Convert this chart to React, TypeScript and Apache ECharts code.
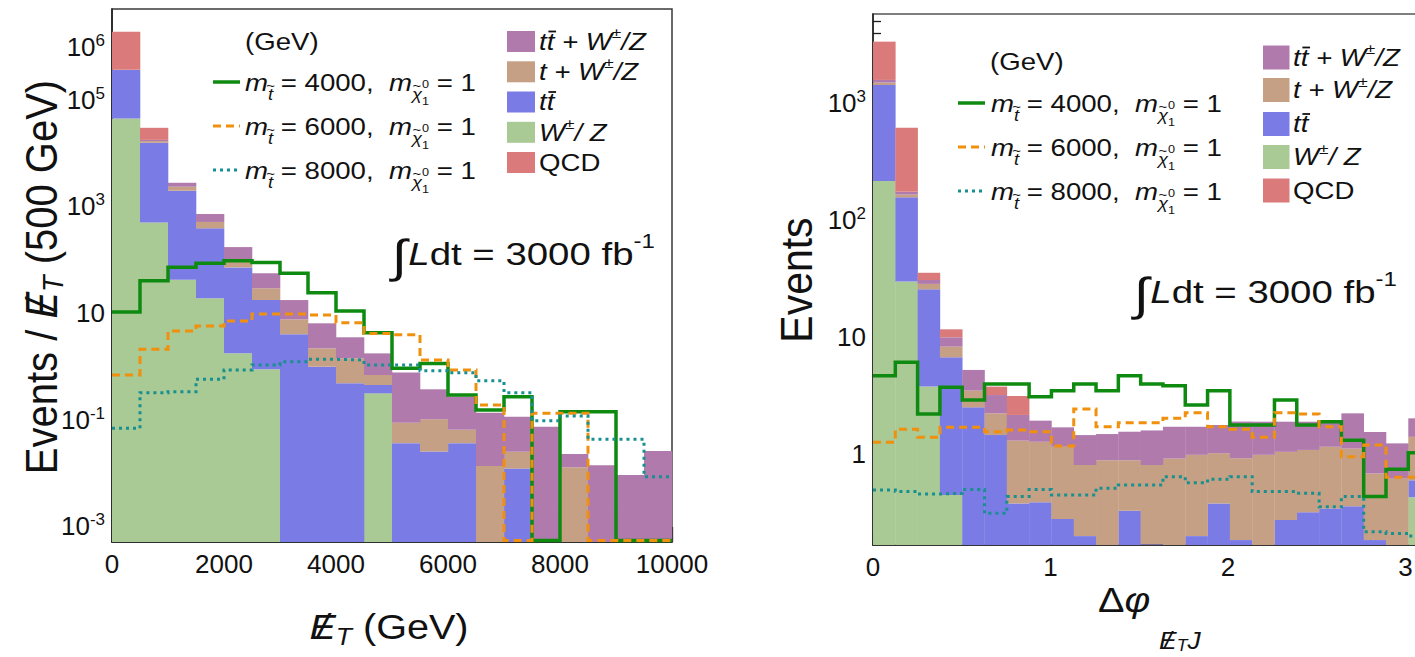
import React, { useEffect, useRef } from 'react';
import * as echarts from 'echarts';

const FONT = '"Liberation Sans", Arial, Helvetica, sans-serif';
const INK = '#111111';
const AXIS = '#1c1c1c';

const C_QCD = '#db7a7a';
const C_TTV = '#b07aad';
const C_TV = '#c5a084';
const C_TT = '#7b7be6';
const C_V = '#a9c995';
const C_S4 = '#0e8a10';
const C_S6 = '#f0900c';
const C_S8 = '#17908f';

// ---------------- left panel: missing ET (GeV), 500 GeV bins ----------------
const metEdges = [0, 500, 1000, 1500, 2000, 2500, 3000, 3500, 4000, 4500, 5000, 5500, 6000, 6500, 7000, 7500, 8000, 8500, 9000, 9500, 10000];
const metWZ = [45000, 500, 42, 19, 1.75, 0.88, 0, 0, 0, 0.31, 0, 0, 0, 0, 0, 0, 0, 0, 0, 0];
const metTT = [320000, 15200, 1935, 370, 70, 16.6, 4.0, 0.98, 0.48, 0.135, 0.036, 0.025, 0.036, 0, 0.012, 0, 0, 0, 0, 0];
const metTV = [2000, 1200, 370, 123, 30, 11.6, 3.6, 1.19, 0.93, 0.24, 0.051, 0.076, 0.028, 0.0134, 0.0128, 0, 0.0127, 0, 0, 0];
const metTTV = [1500, 900, 440, 211, 71, 26.5, 9.9, 4.23, 2.09, 1.06, 0.677, 0.268, 0.205, 0.121, 0.088, 0.073, 0.0098, 0.0138, 0.0091, 0.0255];
const metQCD = [1540000, 12200, 0, 0, 0, 0, 0, 0, 0, 0, 0, 0, 0, 0, 0, 0, 0, 0, 0, 0];
const metSig4000 = [10.4, 40.4, 72, 85.7, 96, 89, 55.6, 24, 10.9, 4.27, 0.914, 1.13, 0.288, 0.151, 0.268, 0, 0.14, 0.14, 0, 0];
const metSig6000 = [0.686, 2.08, 4.59, 5.7, 7.08, 9.58, 9.58, 9.17, 6.58, 4.1, 3.9, 1.31, 0.85, 0.187, 0, 0.131, 0.131, 0, 0, 0];
const metSig8000 = [0.0684, 0.319, 0.333, 0.569, 0.85, 1.06, 1.22, 1.35, 1.31, 1.06, 1.06, 0.826, 0.757, 0.535, 0.319, 0.095, 0.116, 0.0425, 0.0425, 0.0084];
const metLabelExp = [6, 5, 3, 1, -1, -3];

// ---------------- right panel: delta phi, pi/25 bins ----------------
const dphiEdges = [0, 0.1257, 0.2513, 0.377, 0.5027, 0.6283, 0.754, 0.8796, 1.0053, 1.131, 1.2566, 1.3823, 1.508, 1.6336, 1.7593, 1.885, 2.0106, 2.1363, 2.2619, 2.3876, 2.5133, 2.6389, 2.7646, 2.8903, 3.0159, 3.1416];
const dphiWZ = [217, 30, 3.8, 0.45, 0, 0, 0, 0, 0, 0, 0, 0, 0, 0, 0, 0, 0, 0, 0, 0, 0, 0, 0, 0, 0.43];
const dphiTT = [1216, 127, 21.9, 6.3, 2.52, 1.46, 0.38, 0.39, 0.28, 0.2, 0.1, 0.33, 0.17, 0.1, 0.2, 0.38, 0.185, 0.1, 0.275, 0.32, 0.345, 0.36, 0.185, 0.1, 0.17];
const dphiTV = [70, 9, 2.9, 1.57, 0.98, 0.78, 0.93, 0.89, 0.88, 0.61, 0.79, 0.56, 0.64, 0.82, 0.79, 0.64, 0.74, 0.89, 0.775, 0.77, 0.815, 0.76, 0.5, 0.52, 0.81];
const dphiTTV = [80, 9, 2.3, 1.68, 1.76, 0.97, 0.86, 0.66, 0.54, 0.65, 0.6, 0.67, 0.79, 0.8, 0.73, 0.76, 0.98, 0.91, 0.85, 0.81, 0.74, 1.12, 0.87, 0.62, 0.62];
const dphiQCD = [1780, 443, 4.7, 1.7, 0, 0.58, 0.98, 0, 0, 0, 0, 0, 0, 0, 0, 0, 0, 0, 0, 0, 0, 0, 0, 0, 0];
const dphiSig4000 = [4.7, 6.11, 2.21, 3.74, 2.91, 3.99, 3.99, 3.11, 3.5, 3.99, 3.5, 4.7, 3.99, 3.86, 2.64, 3.5, 1.78, 1.78, 2.91, 1.78, 1.9, 1.32, 0.435, 0.745, 1.03];
const dphiSig6000 = [1.27, 1.64, 1.4, 1.7, 1.7, 1.56, 1.61, 1.56, 1.18, 2.44, 1.72, 1.86, 1.86, 2.03, 2.27, 1.72, 1.64, 1.4, 2.27, 2.21, 1.72, 0.953, 1.2, 0.636, 0.636];
const dphiSig8000 = [0.495, 0.48, 0.458, 0.464, 0.5, 0.313, 0.435, 0.5, 0.449, 0.449, 0.512, 0.547, 0.547, 0.644, 0.572, 0.611, 0.644, 0.48, 0.48, 0.464, 0.357, 0.435, 0.218, 0.211, 0.2];
const dphiLabelExp = [3, 2, 1, 0];
const dphiMajor = [0, 1, 2, 3];
const dphiMinor = [0.2, 0.4, 0.6, 0.8, 1.2, 1.4, 1.6, 1.8, 2.2, 2.4, 2.6, 2.8];

const signalMasses = ['4000', '6000', '8000'];

// ---------------- helpers ----------------
const canvas = typeof document !== 'undefined' ? document.createElement('canvas') : null;
const mctx = canvas ? canvas.getContext('2d') : null;
function tw(t: string, sz: number, it?: boolean) {
  if (!t) return 0;
  if (!mctx) return t.length * sz * 0.55;
  mctx.font = `${it ? 'italic ' : ''}${sz}px ${FONT}`;
  return mctx.measureText(t).width;
}

type Piece = { t: string; sz: number; it?: boolean; dy?: number; dx?: number; over?: boolean; same?: boolean; bar?: boolean };

function composeWidth(pieces: Piece[]) {
  let cx = 0, prevX = 0;
  for (const p of pieces) {
    const w = tw(p.t, p.sz, p.it);
    if (p.over || p.bar) continue;
    if (p.same) { cx = Math.max(cx, prevX + w); continue; }
    const px = cx + (p.dx || 0);
    prevX = px; cx = px + w;
  }
  return cx;
}

function compose(x: number, y: number, pieces: Piece[], sx = 1, rot = 0, anchor: 'left' | 'center' = 'left') {
  let cx = 0, prevX = 0, prevW = 0;
  const total = composeWidth(pieces);
  const off = anchor === 'center' ? -total / 2 : 0;
  const children: any[] = [];
  for (const p of pieces) {
    if (p.bar) {
      const yy = p.dy || 0;
      children.push({
        type: 'line', silent: true,
        shape: { x1: prevX + off + 1.5 + (p.dx || 0), y1: yy, x2: prevX + prevW + off + 1.5 + (p.dx || 0), y2: yy },
        style: { stroke: INK, lineWidth: 1.8 },
      });
      continue;
    }
    const w = tw(p.t, p.sz, p.it);
    let px: number;
    if (p.over) {
      px = prevX + (prevW - w) / 2 + (p.dx || 0);
    } else if (p.same) {
      px = prevX + (p.dx || 0);
      cx = Math.max(cx, px + w);
    } else {
      px = cx + (p.dx || 0);
      prevX = px; prevW = w; cx = px + w;
    }
    children.push({
      type: 'text', x: px + off, y: p.dy || 0, silent: true,
      style: {
        text: p.t, fontSize: p.sz, fontFamily: FONT, fontStyle: p.it ? 'italic' : 'normal', fill: INK,
        align: 'left', verticalAlign: 'middle', textAlign: 'left', textVerticalAlign: 'middle',
      },
    });
  }
  return { type: 'group', x, y, scaleX: sx, z: 100, children: [{ type: 'group', rotation: rot, children }] };
}

function stackData(edges: number[], layers: number[][], floor: number) {
  const out: number[][][] = layers.map(() => []);
  for (let i = 0; i < edges.length - 1; i++) {
    let cum = 0;
    for (let l = 0; l < layers.length; l++) {
      const v = layers[l][i];
      if (!(v > 0)) continue;
      const lo = cum > 0 ? Math.log10(cum) : floor;
      cum += v;
      out[l].push([edges[i], edges[i + 1], lo, Math.log10(cum)]);
    }
  }
  return out;
}

function histSeries(data: number[][], color: string, xi: number, yi: number) {
  return {
    type: 'custom', xAxisIndex: xi, yAxisIndex: yi, data, silent: true, z: 2,
    encode: { x: [0, 1], y: [2, 3] },
    renderItem: (params: any, api: any) => {
      const p0 = api.coord([api.value(0), api.value(3)]);
      const p1 = api.coord([api.value(1), api.value(2)]);
      const cs = params.coordSys;
      const top = Math.max(p0[1], cs.y);
      const bot = Math.min(p1[1], cs.y + cs.height);
      if (!(bot > top)) return null;
      return { type: 'rect', shape: { x: p0[0], y: top, width: p1[0] - p0[0] + 0.3, height: bot - top }, style: { fill: color } };
    },
  };
}

function stepSeries(edges: number[], vals: number[], zero: number, xi: number, yi: number, color: string, dash: any, width: number) {
  const lv = (v: number) => (v > 0 ? Math.log10(v) : zero);
  const data = vals.map((v, i) => [edges[i], lv(v)]);
  data.push([edges[edges.length - 1], lv(vals[vals.length - 1])]);
  return {
    type: 'line', xAxisIndex: xi, yAxisIndex: yi, step: 'end', symbol: 'none', showSymbol: false,
    data, silent: true, z: 3, clip: true, animation: false,
    lineStyle: { color, width, type: dash, cap: 'butt', join: 'miter' },
  };
}

const powLabel = (v: number) => {
  const e = Math.round(v);
  if (e === 0) return '{b|1}';
  if (e === 1) return '{b|10}';
  return '{b|10}{s|' + e + '}';
};
const powRich = {
  b: { fontSize: 26, lineHeight: 30, fontFamily: FONT, color: INK },
  s: { fontSize: 17, lineHeight: 17, fontFamily: FONT, color: INK, verticalAlign: 'top' },
};

const massPieces = (m: string): Piece[] => [
  { t: 'm', sz: 24, it: true },
  { t: 't', sz: 16, it: true, dy: 11 },
  { t: '~', sz: 13, over: true, dy: 2 },
  { t: ' = ' + m + ',  ', sz: 24 },
  { t: 'm', sz: 24, it: true },
  { t: 'χ', sz: 16, it: true, dy: 11 },
  { t: '~', sz: 13, over: true, dy: 2 },
  { t: '0', sz: 11, dy: 1 },
  { t: '1', sz: 11, dy: 18, same: true },
  { t: ' = 1', sz: 24 },
];

const tbar: Piece = { t: '', sz: 24, bar: true, dy: -10 };
const bkgLegend: { color: string; pieces: Piece[] }[] = [
  { color: C_TTV, pieces: [{ t: 't', sz: 24, it: true }, { t: 't', sz: 24, it: true }, tbar, { t: ' + W', sz: 24, it: true }, { t: '±', sz: 15, dy: -9 }, { t: '/Z', sz: 24, it: true }] },
  { color: C_TV, pieces: [{ t: 't + W', sz: 24, it: true }, { t: '±', sz: 15, dy: -9 }, { t: '/Z', sz: 24, it: true }] },
  { color: C_TT, pieces: [{ t: 't', sz: 24, it: true }, { t: 't', sz: 24, it: true }, tbar] },
  { color: C_V, pieces: [{ t: 'W', sz: 24, it: true }, { t: '±', sz: 15, dy: -9 }, { t: '/ Z', sz: 24, it: true }] },
  { color: C_QCD, pieces: [{ t: 'QCD', sz: 24 }] },
];

const lineStyles = [
  { color: C_S4, width: 3.5, dash: 'solid' as any },
  { color: C_S6, width: 3, dash: [8, 5] as any },
  { color: C_S8, width: 3, dash: [3, 4] as any },
];

function panelDecor(p: {
  gevX: number; gevY: number; rowX: number; rowYs: number[]; lineX1: number; lineX2: number;
  boxX: number; boxW: number; boxH: number; boxYs: number[]; textX: number; lumiX: number; lumiY: number;
}) {
  const els: any[] = [];
  els.push(compose(p.gevX, p.gevY, [{ t: '(GeV)', sz: 24 }], 1.15));
  p.rowYs.forEach((y, i) => {
    const ls = lineStyles[i];
    els.push({ type: 'line', z: 100, silent: true, shape: { x1: p.lineX1, y1: y - 1, x2: p.lineX2, y2: y - 1 }, style: { stroke: ls.color, lineWidth: ls.width, lineDash: ls.dash === 'solid' ? null : ls.dash } });
    els.push(compose(p.rowX, y, massPieces(signalMasses[i]), 1.15));
  });
  bkgLegend.forEach((b, i) => {
    const yc = p.boxYs[i];
    els.push({ type: 'rect', z: 100, silent: true, shape: { x: p.boxX, y: yc - p.boxH / 2, width: p.boxW, height: p.boxH }, style: { fill: b.color } });
    els.push(compose(p.textX, yc, b.pieces, 1.15));
  });
  els.push(compose(p.lumiX, p.lumiY, [
    { t: '∫', sz: 46, dy: 2 },
    { t: 'L', sz: 32, it: true, dx: 1 },
    { t: 'dt = 3000 fb', sz: 32 },
    { t: '-1', sz: 20, dy: -13 },
  ], 1.2));
  return els;
}

function buildOption() {
  const L = { ymin: -3.3, ymax: 6.708 };
  const R = { ymin: -0.775, ymax: 3.763 };
  const Lzero = L.ymin + 0.03;
  const Rzero = R.ymin + 0.014;

  const leftMajor: number[] = [];
  for (let e = -3; e <= 6; e++) leftMajor.push(e);
  const leftMinor: number[] = [];
  for (let e = -3; e <= 5; e++) leftMinor.push(e + Math.log10(5));
  const rightMajor = [0, 1, 2, 3];
  const rightMinor: number[] = [];
  for (let e = -1; e <= 3; e++) {
    for (let k = 2; k <= 9; k++) {
      const v = e + Math.log10(k);
      if (v > R.ymin && v < R.ymax) rightMinor.push(v);
    }
  }

  const layerColors = [C_V, C_TT, C_TV, C_TTV, C_QCD];
  const leftStack = stackData(metEdges, [metWZ, metTT, metTV, metTTV, metQCD], L.ymin - 3);
  const rightStack = stackData(dphiEdges, [dphiWZ, dphiTT, dphiTV, dphiTTV, dphiQCD], R.ymin - 3);

  const series: any[] = [];
  leftStack.forEach((d, l) => series.push(histSeries(d, layerColors[l], 0, 0)));
  rightStack.forEach((d, l) => series.push(histSeries(d, layerColors[l], 1, 2)));
  const lsig = [metSig4000, metSig6000, metSig8000];
  const rsig = [dphiSig4000, dphiSig6000, dphiSig8000];
  lineStyles.forEach((s, i) => {
    series.push(stepSeries(metEdges, lsig[i], Lzero, 0, 0, s.color, s.dash, s.width));
    series.push(stepSeries(dphiEdges, rsig[i], Rzero, 1, 2, s.color, s.dash, s.width));
  });

  const axLine = { show: true, onZero: false, lineStyle: { color: AXIS, width: 1.5 } };
  const tickStyle = { color: AXIS, width: 1.3 };
  const xLabel = { fontSize: 26, fontFamily: FONT, color: INK, margin: 9, formatter: (v: number) => String(Math.round(v)) };

  const xAxis = [
    {
      gridIndex: 0, type: 'value', min: 0, max: 10000, interval: 2000, position: 'bottom',
      axisLine: axLine, axisTick: { inside: true, length: 15, lineStyle: tickStyle },
      minorTick: { show: true, splitNumber: 4, length: 9, lineStyle: tickStyle },
      axisLabel: xLabel, splitLine: { show: false }, minorSplitLine: { show: false },
    },
    {
      gridIndex: 1, type: 'value', min: 0, max: Math.PI, position: 'bottom',
      axisLine: axLine, axisTick: { inside: true, length: 14, lineStyle: tickStyle, customValues: dphiMajor },
      axisLabel: { ...xLabel, customValues: dphiMajor }, splitLine: { show: false },
    },
    {
      gridIndex: 1, type: 'value', min: 0, max: Math.PI, position: 'bottom',
      axisLine: { show: false, onZero: false }, axisTick: { inside: true, length: 8, lineStyle: tickStyle, customValues: dphiMinor },
      axisLabel: { show: false }, splitLine: { show: false },
    },
  ];

  const yAxis = [
    {
      gridIndex: 0, type: 'value', min: L.ymin, max: L.ymax, position: 'left',
      axisLine: axLine, axisTick: { inside: true, length: 16, lineStyle: tickStyle, customValues: leftMajor },
      axisLabel: { customValues: metLabelExp, formatter: powLabel, rich: powRich, margin: 7 },
      splitLine: { show: false },
    },
    {
      gridIndex: 0, type: 'value', min: L.ymin, max: L.ymax, position: 'left',
      axisLine: { show: false, onZero: false }, axisTick: { inside: true, length: 9, lineStyle: tickStyle, customValues: leftMinor },
      axisLabel: { show: false }, splitLine: { show: false },
    },
    {
      gridIndex: 1, type: 'value', min: R.ymin, max: R.ymax, position: 'left',
      axisLine: axLine, axisTick: { inside: true, length: 15, lineStyle: tickStyle, customValues: rightMajor },
      axisLabel: { customValues: dphiLabelExp, formatter: powLabel, rich: powRich, margin: 7 },
      splitLine: { show: false },
    },
    {
      gridIndex: 1, type: 'value', min: R.ymin, max: R.ymax, position: 'left',
      axisLine: { show: false, onZero: false }, axisTick: { inside: true, length: 8, lineStyle: tickStyle, customValues: rightMinor },
      axisLabel: { show: false }, splitLine: { show: false },
    },
  ];

  const graphics: any[] = [
    ...panelDecor({
      gevX: 245, gevY: 42, rowX: 245, rowYs: [83, 127, 171], lineX1: 213, lineX2: 240,
      boxX: 507, boxW: 28, boxH: 21, boxYs: [41.5, 71.8, 102, 132.3, 162.5], textX: 539, lumiX: 392, lumiY: 254,
    }),
    ...panelDecor({
      gevX: 990, gevY: 62, rowX: 991, rowYs: [104, 148, 192], lineX1: 958, lineX2: 985,
      boxX: 1263, boxW: 26.5, boxH: 24, boxYs: [57.5, 90, 124, 157, 190.5], textX: 1293, lumiX: 1134, lumiY: 292,
    }),
    // left x title
    compose(389, 627, [
      { t: 'E', sz: 36, it: true }, { t: '/', sz: 36, it: true, over: true },
      { t: 'T', sz: 24, it: true, dy: 9 }, { t: ' (GeV)', sz: 36 },
    ], 1.1, 0, 'center'),
    // left y title (rotated)
    compose(42, 277, [
      { t: 'Events / ', sz: 40 }, { t: 'E', sz: 40, it: true }, { t: '/', sz: 40, it: true, over: true },
      { t: 'T', sz: 27, it: true, dy: 10 }, { t: ' (500 GeV)', sz: 40 },
    ], 1.1, Math.PI / 2, 'center'),
    // right x title
    compose(1098, 600, [
      { t: 'Δ', sz: 36 }, { t: 'φ', sz: 36, it: true },
      { t: 'E', sz: 24, it: true, dy: 40, dx: 8 }, { t: '/', sz: 24, it: true, over: true, dy: 40 },
      { t: 'T', sz: 16, it: true, dy: 46 }, { t: 'J', sz: 24, it: true, dy: 40 },
    ], 1.1),
    // right y title
    compose(796, 280, [{ t: 'Events', sz: 41 }], 1.1, Math.PI / 2, 'center'),
  ];

  return {
    animation: false,
    backgroundColor: '#ffffff',
    grid: [
      { left: 112, top: 9, width: 560, height: 533, show: true, borderColor: '#3a3a3a', borderWidth: 1.5, backgroundColor: 'transparent', containLabel: false, outerBoundsMode: 'none' },
      { left: 873, top: 14, width: 557.6, height: 531, show: true, borderColor: '#555555', borderWidth: 1.5, backgroundColor: 'transparent', containLabel: false, outerBoundsMode: 'none' },
    ],
    xAxis,
    yAxis,
    series,
    graphic: { elements: graphics },
  };
}

export default function App() {
  const ref = useRef<HTMLDivElement>(null);
  useEffect(() => {
    if (!ref.current) return;
    const chart = echarts.init(ref.current, undefined, { renderer: 'svg' });
    chart.setOption(buildOption() as any);
    return () => chart.dispose();
  }, []);
  return <div ref={ref} style={{ position: 'fixed', left: 0, top: 0, width: 1415, height: 657, background: '#fff' }} />;
}
